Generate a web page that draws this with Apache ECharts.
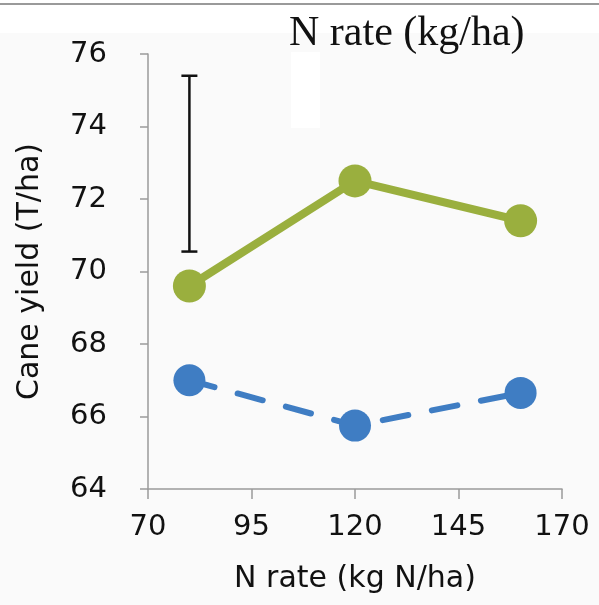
<!DOCTYPE html>
<html>
<head>
<meta charset="utf-8">
<script src="https://cdn.jsdelivr.net/npm/echarts@6/dist/echarts.min.js"></script>
<style>
html,body{margin:0;padding:0;background:#fafafa;}
#c{width:599px;height:605px;}
</style>
</head>
<body>
<div id="c"></div>
<script>
const nRates = [80, 120, 160];
const greenYield = [69.6, 72.5, 71.4];
const blueYield = [67.0, 65.75, 66.65];
const errX = [80];
const errLow = [70.55];
const errHigh = [75.4];
const xTicks = [70, 95, 120, 145, 170];
const yTicks = [64, 66, 68, 70, 72, 74, 76];
const titleText = 'N rate (kg/ha)';
const xName = 'N rate (kg N/ha)';
const yName = 'Cane yield (T/ha)';

const FONT = 'DejaVu Sans';
const chart = echarts.init(document.getElementById('c'));
chart.setOption({
  backgroundColor: '#fafafa',
  animation: false,
  graphic: [
    {type:'rect', shape:{x:0,y:0,width:599,height:33}, style:{fill:'#ffffff'}, z:-1},
    {type:'rect', shape:{x:0,y:3,width:599,height:2}, style:{fill:'#9a9a9a'}, z:-1},
    {type:'rect', shape:{x:291,y:52,width:29,height:76}, style:{fill:'#ffffff'}, z:10},
    {type:'text', left:289, top:13, style:{text:titleText, font:'42px "Liberation Serif"', fill:'#111'}, z:11}
  ],
  grid: {left:148, right:37, top:54, bottom:116},
  xAxis: {
    type:'value', min:xTicks[0], max:xTicks[xTicks.length-1], interval:25,
    name:xName, nameLocation:'middle', nameGap:75,
    nameTextStyle:{fontFamily:FONT, fontSize:30, color:'#111'},
    axisLine:{show:true, onZero:false, lineStyle:{color:'#9a9a9a', width:1.5}},
    axisTick:{show:true, length:10, lineStyle:{color:'#9a9a9a', width:1.5}},
    axisLabel:{fontFamily:FONT, fontSize:29, color:'#111', margin:24},
    splitLine:{show:false}
  },
  yAxis: {
    type:'value', min:yTicks[0], max:yTicks[yTicks.length-1], interval:2,
    name:yName, nameLocation:'middle', nameGap:103, nameRotate:90,
    nameTextStyle:{fontFamily:FONT, fontSize:30, color:'#111'},
    axisLine:{show:true, onZero:false, lineStyle:{color:'#9a9a9a', width:1.5}},
    axisTick:{show:true, length:8, lineStyle:{color:'#9a9a9a', width:1.5}},
    axisLabel:{fontFamily:FONT, fontSize:29, color:'#111', margin:41},
    splitLine:{show:false}
  },
  series: [
    {
      type:'line', data:nRates.map((x,i)=>[x, greenYield[i]]),
      symbol:'circle', symbolSize:33, clip:false,
      itemStyle:{color:'#9aaf3e'},
      lineStyle:{color:'#9aaf3e', width:8}, z:3
    },
    {
      type:'line', data:nRates.map((x,i)=>[x, blueYield[i]]),
      symbol:'circle', symbolSize:32, clip:false,
      itemStyle:{color:'#3f7dc3'},
      lineStyle:{color:'#3f7dc3', width:6, type:[26,24], cap:'round'}, z:3
    },
    {
      type:'custom', clip:false, z:4,
      data: errX.map((x,i)=>[x, errLow[i], errHigh[i]]),
      renderItem: function(params, api){
        const lo = api.coord([api.value(0), api.value(1)]);
        const hi = api.coord([api.value(0), api.value(2)]);
        const w = 8;
        const st = {stroke:'#111', lineWidth:2.5};
        return {type:'group', children:[
          {type:'line', shape:{x1:lo[0],y1:lo[1],x2:hi[0],y2:hi[1]}, style:st},
          {type:'line', shape:{x1:lo[0]-w,y1:lo[1],x2:lo[0]+w,y2:lo[1]}, style:st},
          {type:'line', shape:{x1:hi[0]-w,y1:hi[1],x2:hi[0]+w,y2:hi[1]}, style:st}
        ]};
      }
    }
  ]
});
</script>
</body>
</html>
